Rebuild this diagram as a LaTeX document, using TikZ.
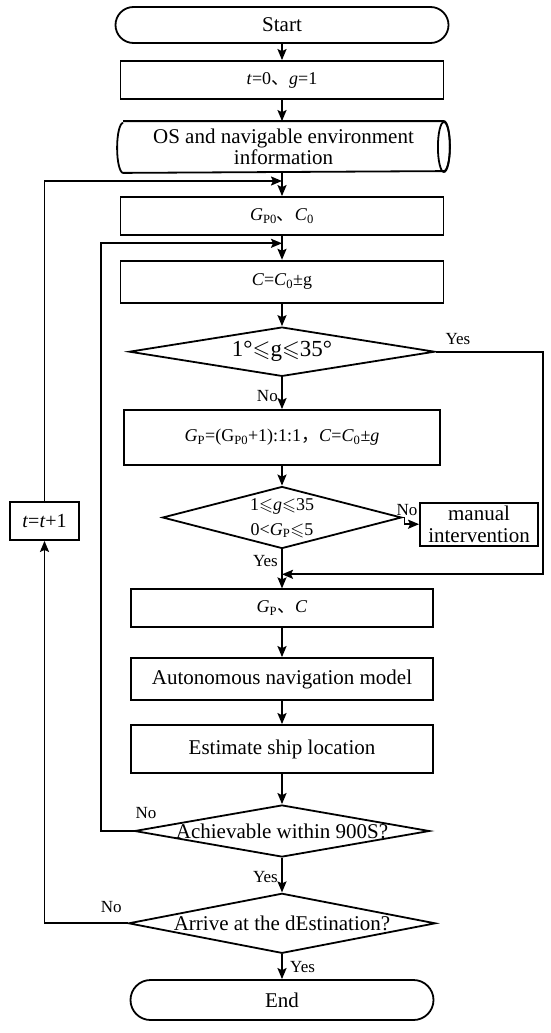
\documentclass[tikz,border=0pt]{standalone}
\usepackage{amssymb}
\usepackage{fontspec}
\setmainfont{Liberation Serif}
\newfontfamily\cjk{Noto Sans CJK SC}
\usepackage{tikz}
\usetikzlibrary{
    arrows.meta,
    shapes.geometric,
    shapes.misc
}
\newcommand{\Gsub}[1]{\textit{G}\textsubscript{#1}}

\begin{document}
\begin{tikzpicture}[
    x=1pt, y=1pt,
    >={Stealth[length=11pt, width=9pt, inset=2pt]},
    %% --- semantic styles ---
    termbox/.style   = {rounded rectangle, draw, line width=1.8pt,
                        inner sep=0pt, font=\fontsize{21}{22}\selectfont},
    procbox/.style   = {rectangle, draw, line width=1.8pt, align=center,
                        inner sep=0pt, font=\fontsize{21}{22}\selectfont},
    mathbox/.style   = {procbox, font=\fontsize{18}{22}\selectfont},
    iobox/.style     = {procbox, draw=none, font=\fontsize{21}{21}\selectfont},
    decision/.style  = {diamond, draw, line width=1.8pt, inner sep=0pt,
                        font=\fontsize{21}{22}\selectfont},
    flow/.style      = {->, line width=1.8pt},
    branch/.style    = {font=\fontsize{17}{19}\selectfont}
]
\useasboundingbox (0,0) rectangle (550,-1033);

%% =====================================================
%% Main column
%% =====================================================
\node[termbox, minimum width=333pt, minimum height=36pt] (START) at (282,-25) {Start};
\node[mathbox, minimum width=323pt, minimum height=38pt] (INIT) at (282,-80)
    {\textit{t}=0{\cjk 、}\textit{g}=1};
\node[iobox, minimum width=331pt, minimum height=50pt] (ENV) at (283.5,-147)
    {OS and navigable environment\\information};
% drum outline of the data store
\draw[line width=1.8pt]
    ([xshift=6pt]ENV.north west) -- ([xshift=-6pt]ENV.north east)
    arc[start angle=90, end angle=-90, x radius=6pt, y radius=25pt]
    -- ([xshift=6pt]ENV.south west)
    arc[start angle=270, end angle=90, x radius=6pt, y radius=25pt];
\draw[line width=1.8pt] ([xshift=-6pt]ENV.east)
    ellipse[x radius=6pt, y radius=25pt];
\node[mathbox, minimum width=323pt, minimum height=38pt] (GP0) at (282,-216)
    {\Gsub{P0}{\cjk 、}\textit{C}\textsubscript{0}};
\node[mathbox, minimum width=323pt, minimum height=42pt] (CC) at (282,-281.7)
    {\textit{C}=\textit{C}\textsubscript{0}±g};
\node[decision, minimum width=305.6pt, minimum height=49.3pt,
      font=\fontsize{23}{25}\selectfont] (D1) at (282,-351.7)
    {\makebox[0pt]{1°$\leqslant$g$\leqslant$35°}};
\node[mathbox, minimum width=316pt, minimum height=55pt] (GP) at (282,-437.5)
    {\Gsub{P}=(G\textsubscript{P0}+1):1:1{\cjk ，}\textit{C}=\textit{C}\textsubscript{0}±\textit{g}};
\node[decision, minimum width=239pt, minimum height=62pt,
      font=\fontsize{18}{25}\selectfont] (D2) at (282,-517.5)
    {\makebox[0pt]{\begin{tabular}{@{}c@{}}
        1$\leqslant$\textit{g}$\leqslant$35\\
        0<\Gsub{P}$\leqslant$5
    \end{tabular}}};
\node[procbox, minimum width=302pt, minimum height=37.4pt,
      font=\fontsize{18}{22}\selectfont] (GPC) at (282,-608)
    {\Gsub{P}{\cjk 、}\textit{C}};
\node[procbox, minimum width=302pt, minimum height=42pt] (AUTO) at (282,-679)
    {Autonomous navigation model};
\node[procbox, minimum width=302pt, minimum height=48pt] (EST) at (282,-749)
    {Estimate ship location};
\node[decision, minimum width=295pt, minimum height=52pt] (D3) at (282,-831)
    {\makebox[0pt]{Achievable within 900S?}};
\node[decision, minimum width=307pt, minimum height=60pt] (D4) at (282,-923.3)
    {\makebox[0pt]{Arrive at the dEstination?}};
\node[termbox, minimum width=303pt, minimum height=40pt] (END) at (282,-1000) {End};

%% =====================================================
%% Side boxes
%% =====================================================
\node[procbox, minimum width=118pt, minimum height=43pt] (MAN) at (479,-524.2)
    {manual\\intervention};
\node[procbox, minimum width=69pt, minimum height=38pt,
      font=\fontsize{20}{22}\selectfont] (TT) at (44.5,-521)
    {\textit{t}=\textit{t}+1};

% junctions on the main line and loop corners
\coordinate (J1) at (282,-181);
\coordinate (J2) at (282,-243.3);
\coordinate (J3) at (282,-574.3);
\coordinate (RC) at (542.7,-574.3);
\coordinate (LC) at (100.7,-831);

%% =====================================================
%% Connectors
%% =====================================================
\draw[flow] (START) -- (INIT);
\draw[flow] (INIT) -- (INIT |- ENV.north);
\draw[flow] (GP0 |- ENV.south) -- (GP0.north);
\draw[flow] (GP0) -- (CC);
\draw[flow] (CC) -- (D1);
\draw[flow] (D1) -- node[branch, left, pos=0.6] (no1) {No} (GP);
\draw[flow] (D1.east) -- node[branch, pos=0, anchor=south west, inner sep=1pt,
        xshift=8pt, yshift=5pt] (yes1) {Yes} (D1.east -| RC) -- (RC) -- (J3);
\draw[flow] (GP) -- (D2);
\draw[flow] (D2.east) -- node[branch, pos=0, anchor=south, inner sep=1pt,
        xshift=4.5pt] (no2) {No} ++(2,0) |- (MAN.west);
\draw[flow] (D2) -- node[branch, left, pos=0.3] (yes2) {Yes} (GPC);
\draw[flow] (GPC) -- (AUTO);
\draw[flow] (AUTO) -- (EST);
\draw[flow] (EST) -- (D3);
\draw[flow] (D3.west) -- node[branch, pos=0, anchor=south west, inner sep=1pt,
        yshift=10pt] (no3) {No} (LC) |- (J2);
\draw[flow] (D3) -- node[branch, left, pos=0.55] (yes3) {Yes} (D4);
\draw[flow] (D4.west) -| node[branch, pos=0, anchor=south east, inner sep=1pt,
        xshift=-4pt, yshift=9pt] (no4) {No} (TT.south);
\draw[flow] (TT.north) |- (J1);
\draw[flow] (D4) -- node[branch, right, pos=0.5, xshift=4pt] (yes4) {Yes} (END);

\end{tikzpicture}
\end{document}
